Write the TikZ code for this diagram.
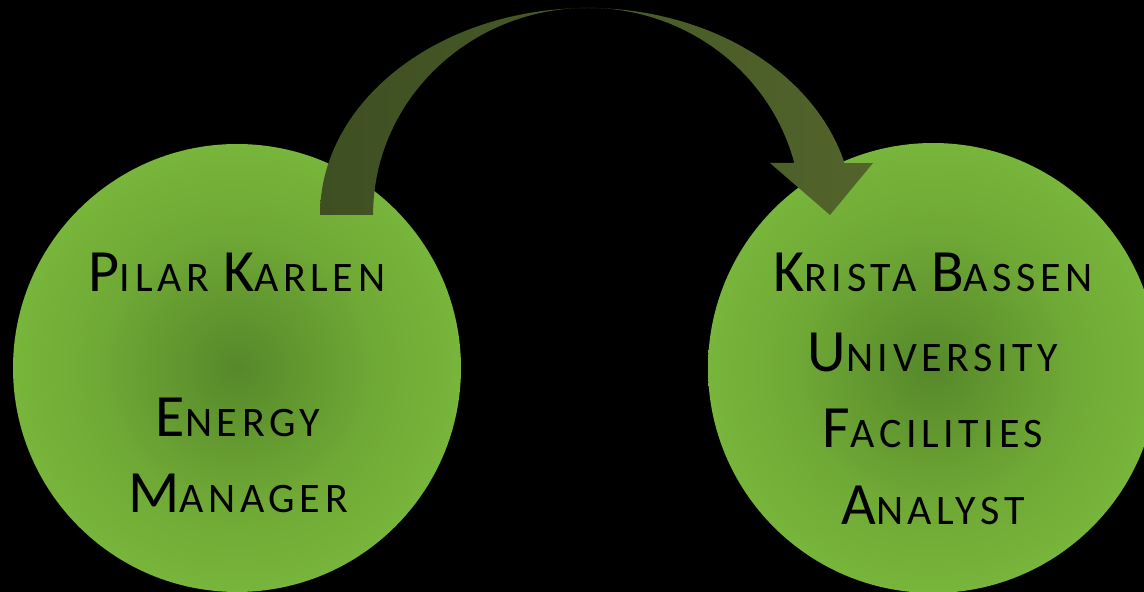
\documentclass[tikz,border=0pt]{standalone}
\usepackage{fontspec}
\setmainfont{Carlito}[LetterSpace=11]
\definecolor{gout}{RGB}{128,192,64}
\definecolor{gmid}{RGB}{112,170,54}
\definecolor{gin}{RGB}{86,136,42}
\definecolor{arrl}{RGB}{62,80,34}
\definecolor{arrr}{RGB}{82,100,43}
\pgfdeclareradialshading{greenball}{\pgfpoint{0bp}{0bp}}{color(0bp)=(gin); color(16bp)=(gmid); color(34bp)=(gout); color(50bp)=(gout)}
\newcommand\bigc[1]{{\fontsize{60}{72}\selectfont #1}}
\newcommand\smc[1]{{\fontsize{42}{50}\selectfont #1}}
\tikzset{
  person/.style={circle, minimum size=448pt, inner sep=0pt, shading=greenball},
  label text/.style={anchor=base, text=black, inner sep=0pt, font=\fontsize{42}{50}\selectfont},
}
\begin{document}
\begin{tikzpicture}[x=1pt,y=1pt]
\fill[black] (0,0) rectangle (1144,592);
\useasboundingbox (0,0) rectangle (1144,592);
\clip (0,0) rectangle (1144,592);
\node[person] (left) at (237,224) {};
\node[person, minimum size=450pt] (right) at (933,224) {};
% curved block arrow
\shade[left color=arrl, right color=arrr, shading angle=90]
  (320,377) arc[start angle=180, end angle=90, x radius=268, y radius=207]
  arc[start angle=90, end angle=14.5, x radius=265, y radius=207]
  -- (873,429) -- (830,377) -- (770,429) -- (794.3,429)
  arc[start angle=14.5, end angle=90, x radius=213, y radius=207]
  arc[start angle=90, end angle=180, x radius=215, y radius=207]
  -- cycle;
\node[label text] (l1) at (237,300) {\bigc{P}\smc{ILAR} \bigc{K}\smc{ARLEN}};
\node[label text] (l2) at (238,155) {\bigc{E}\smc{NERGY}};
\node[label text] (l3) at (238,79) {\bigc{M}\smc{ANAGER}};
\node[label text] (r1) at (933,300) {\bigc{K}\smc{RISTA} \bigc{B}\smc{ASSEN}};
\node[label text] (r2) at (933,220) {\bigc{U}\smc{NIVERSITY}};
\node[label text] (r3) at (933,144) {\bigc{F}\smc{ACILITIES}};
\node[label text] (r4) at (933,67) {\bigc{A}\smc{NALYST}};
\end{tikzpicture}
\end{document}
